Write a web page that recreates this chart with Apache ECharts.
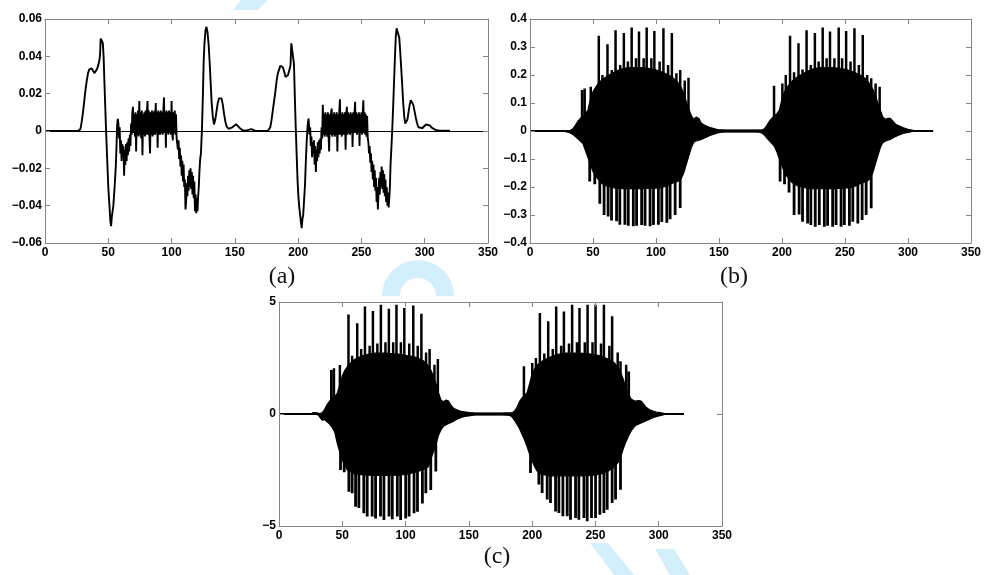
<!DOCTYPE html>
<html><head><meta charset="utf-8">
<script src="https://cdn.jsdelivr.net/npm/echarts/dist/echarts.min.js"></script>
<style>html,body{margin:0;padding:0;background:#fff}#c{width:984px;height:575px}</style>
</head><body><div id="c"></div>
<script>
// ---------- axis ticks ----------
const xTicks = {min: 0, max: 350, interval: 50};
const aTicks = {min: -0.06, max: 0.06, interval: 0.02};
const bTicks = {min: -0.4, max: 0.4, interval: 0.1};
const cTicks = {min: -5, max: 5, interval: 5};
const panelLabels = ['(a)', '(b)', '(c)'];

// ---------- panel (a) ----------
const aPart1X = [0,10,20,26,27,28,29,30,31,32,33,34,35,36,37,38,39,40,41,42,43,43.5,44,45,45.7,46.3,47,48,49,50,51,51.6,52.2,52.8,53.4,54,55,55.5];
const aPart1Y = [0,0,0,0,0.0005,0.001,0.005,0.01,0.016,0.022,0.027,0.031,0.033,0.034,0.0335,0.0325,0.031,0.0305,0.033,0.035,0.038,0.041,0.0495,0.0495,0.047,0.04,0.025,0.005,-0.013,-0.03,-0.041,-0.048,-0.051,-0.046,-0.047,-0.04,-0.03,-0.024];
const aNoise1Start = 56, aNoiseStep = 0.5;
const aNoise1 = [
 -0.018,-0.008,0.003,0.0065,0.004,-0.004,0.002,-0.012,-0.005,-0.016,-0.007,-0.012,-0.008,-0.024,-0.01,-0.018,-0.007,-0.016,-0.006,-0.013,-0.004,-0.011,-0.002,-0.008,
 0.004,-0.002,0.01,0.013,-0.001,0.009,-0.003,0.01,-0.011,0.009,
 -0.002,0.011,-0.003,0.016,-0.002,0.01,-0.004,0.011,-0.013,0.009,
 -0.002,0.01,-0.003,0.011,-0.002,0.01,0.016,-0.002,0.011,-0.003,
 -0.012,0.01,-0.002,0.011,-0.003,0.01,-0.002,0.011,-0.002,0.015,
 -0.001,0.01,-0.009,0.011,-0.002,0.01,-0.002,0.011,-0.001,0.01,
 -0.002,0.011,0.018,-0.001,0.01,-0.009,0.011,-0.001,0.01,-0.002,
 0.011,-0.001,0.01,-0.002,0.016,-0.001,-0.005,0.01,-0.001,0.011,
 -0.002,0.009,-0.004,
 -0.004,-0.01,-0.005,-0.015,-0.009,-0.019,-0.013,-0.024,-0.016,-0.027,
 -0.018,-0.03,-0.026,-0.042,-0.038,-0.028,-0.035,-0.024,-0.032,-0.021,
 -0.03,-0.02,-0.031,-0.022,-0.034,-0.024,-0.036,-0.027,-0.043,-0.034,
 -0.044,-0.036,-0.043,-0.035,-0.03,-0.022];
const aPart2X = [122.6,123.2,124,124.7,125.4,126,126.8,127.6,128.4,129.2,130,130.8,131.6,132.5,133.5,134.5,135.5,136.5,137.5,138.5,139.5,140.5,141.5,142.5,143.5,145,146.5,148,149.5,151,152.5,154,156,158,160,163,166,170,174];
const aPart2Y = [-0.015,-0.012,0.001,0.018,0.038,0.047,0.054,0.0558,0.053,0.047,0.038,0.027,0.016,0.008,0.0035,0.006,0.0105,0.015,0.0175,0.0185,0.0175,0.014,0.009,0.005,0.0025,0.0012,0.0012,0.002,0.003,0.0036,0.003,0.0015,0.0004,0.0002,0.0005,0.001,0.0002,0,0];
const aPart3X = [176,177,178,179,180,181,182,183,184,185,186,187,188,189,190,191,192,193,194,194.6,195.3,196,196.7,197.4,198.1,198.8,199.5,200.2,200.9,201.6,202.2,202.8,203.4,204,204.7,205.4,206.1,206.8,207.5,208.2];
const aPart3Y = [0,0.001,0.002,0.006,0.011,0.016,0.021,0.027,0.031,0.033,0.035,0.0353,0.034,0.0317,0.029,0.028,0.03,0.0326,0.0353,0.047,0.047,0.046,0.036,0.018,0.002,-0.012,-0.026,-0.035,-0.041,-0.045,-0.049,-0.052,-0.047,-0.045,-0.037,-0.029,-0.016,-0.005,0.003,0.0066];
const aNoise2Start = 208.5;
const aNoise2 = [
 0.004,-0.002,0.002,-0.008,-0.003,-0.014,-0.006,-0.012,-0.005,-0.018,-0.008,-0.022,-0.01,-0.016,-0.006,-0.014,-0.005,-0.012,-0.004,-0.01,0.002,-0.004,
 0.014,-0.002,0.009,-0.003,0.01,-0.002,0.009,-0.003,0.01,-0.002,
 -0.011,0.009,-0.002,0.01,0.012,-0.003,0.009,-0.002,0.01,-0.003,
 0.009,-0.002,0.01,-0.011,0.009,-0.002,0.01,0.017,-0.002,0.009,
 -0.003,0.01,-0.002,0.009,-0.002,0.01,-0.01,0.009,0.013,-0.002,
 0.01,-0.001,0.009,-0.002,0.01,-0.001,0.009,-0.0085,0.01,-0.001,
 0.009,0.0156,-0.001,0.01,-0.002,0.009,-0.001,0.01,-0.008,0.009,
 -0.001,0.01,-0.002,0.009,0.0165,-0.001,0.01,-0.002,0.009,-0.003,
 0.008,-0.004,
 -0.006,-0.012,-0.008,-0.017,-0.012,-0.022,-0.016,-0.026,-0.018,-0.03,
 -0.021,-0.032,-0.025,-0.038,-0.03,-0.042,-0.033,-0.025,-0.034,-0.022,
 -0.03,-0.019,-0.031,-0.021,-0.033,-0.023,-0.035,-0.026,-0.038,-0.03,
 -0.04,-0.033,-0.041,-0.036,-0.03,-0.018];
const aPart4X = [273.6,274.3,275,275.7,276.4,277.1,277.8,278.5,279.2,279.9,280.6,281.4,282.2,283,283.8,284.6,285.4,286.3,287.2,288.1,289,290,291,292,293,294,295,296.5,298,299.5,301,302.5,304,305.5,307,309,312,316,320];
const aPart4Y = [-0.01,0,0.012,0.025,0.038,0.05,0.055,0.0558,0.054,0.05,0.043,0.034,0.025,0.015,0.008,0.004,0.0035,0.006,0.01,0.014,0.0165,0.0168,0.014,0.0105,0.007,0.004,0.002,0.0012,0.0015,0.0025,0.0035,0.0036,0.003,0.0018,0.0008,0.0004,0.0002,0.0002,0.0002];

// ---------- envelopes for (b) and (c): burst 1 x=26..156, burst 2 x=176..306, step 2 ----------
const env1Start = 26, env2Start = 176, envStep = 2;
const baseX = [0, 320];
const baseY = [0, 0];

const b1Up = [0,0,0,0.002,0.008,0.02,0.035,0.045,0.055,0.062, 0.075,0.115,0.14,0.155,0.168,0.178,0.186,0.192,0.198,0.203,
 0.208,0.213,0.217,0.22,0.223,0.225,0.226,0.226,0.226,0.226, 0.226,0.226,0.225,0.225,0.224,0.222,0.22,0.218,0.215,0.212,
 0.208,0.204,0.2,0.195,0.188,0.18,0.17,0.155,0.135,0.105, 0.08,0.055,0.042,0.05,0.045,0.028,0.022,0.018,0.014,0.011,
 0.009,0.006,0.004,0.003,0.002,0];
const b1Lo = [0,-0.002,-0.004,-0.007,-0.012,-0.02,-0.028,-0.036,-0.045,-0.07, -0.095,-0.12,-0.145,-0.16,-0.172,-0.182,-0.19,-0.195,-0.198,-0.2,
 -0.202,-0.204,-0.205,-0.205,-0.206,-0.206,-0.206,-0.206,-0.206,-0.206, -0.206,-0.206,-0.206,-0.205,-0.205,-0.205,-0.205,-0.204,-0.203,-0.202,
 -0.2,-0.197,-0.193,-0.188,-0.185,-0.182,-0.178,-0.17,-0.15,-0.12, -0.09,-0.06,-0.04,-0.035,-0.033,-0.03,-0.026,-0.022,-0.018,-0.014,
 -0.011,-0.008,-0.006,-0.004,-0.002,0];
const b2Up = [0,0,0,0,0.002,0.008,0.02,0.035,0.045,0.055, 0.062,0.075,0.115,0.14,0.155,0.168,0.178,0.186,0.192,0.198,
 0.203,0.208,0.213,0.217,0.22,0.223,0.225,0.226,0.226,0.226, 0.226,0.226,0.226,0.225,0.225,0.224,0.222,0.22,0.218,0.215,
 0.212,0.208,0.204,0.2,0.195,0.188,0.178,0.165,0.15,0.13, 0.1,0.075,0.05,0.042,0.045,0.045,0.035,0.025,0.02,0.016,
 0.012,0.009,0.006,0.004,0.002,0];
const b2Lo = [0,0,-0.002,-0.004,-0.007,-0.014,-0.025,-0.035,-0.045,-0.055, -0.075,-0.1,-0.125,-0.148,-0.162,-0.174,-0.184,-0.19,-0.195,-0.198,
 -0.2,-0.202,-0.204,-0.205,-0.206,-0.206,-0.206,-0.206,-0.206,-0.206, -0.206,-0.206,-0.206,-0.206,-0.205,-0.205,-0.205,-0.204,-0.203,-0.202,
 -0.2,-0.197,-0.193,-0.188,-0.185,-0.182,-0.178,-0.17,-0.15,-0.12, -0.09,-0.06,-0.042,-0.036,-0.033,-0.03,-0.025,-0.02,-0.016,-0.012,
 -0.009,-0.007,-0.005,-0.003,-0.001,0];
const bSpikeUpX = [41.3,43.4,48.2,54.6,57.5,61.5,64.9,67.9,71.6,74.5,77.7,80.7,84.1,86.5,90.2,92.6,96.3,98.7,102.9,105.9,109.6,112.6,116.2,119.2,122.8,125.8,
 193.7,200.3,203,206.4,209.6,213.1,216.3,219.5,222.9,226.1,229.1,232.3,235.4,238.1,241.6,245,247.7,250.9,254.4,257.5,261,264.1,267.6,270.8,274.3,277.5];
const bSpikeUpY = [0.146,0.152,0.158,0.34,0.2,0.31,0.218,0.36,0.236,0.35,0.248,0.37,0.26,0.355,0.26,0.37,0.26,0.357,0.248,0.367,0.236,0.35,0.206,0.218,0.18,0.19,
 0.162,0.17,0.2,0.34,0.21,0.313,0.22,0.36,0.236,0.35,0.248,0.37,0.26,0.355,0.26,0.37,0.26,0.357,0.248,0.367,0.236,0.343,0.2,0.188,0.17,0.158];
const bSpikeLoX = [47.4,51.4,55.4,58.8,62,64.7,68.7,71.3,75.3,78,82,84.6,88.6,91.3,95.3,98,101.9,104.6,108.6,111.2,115.2,119.2,
 198.5,202,205.6,209.6,213.6,216.3,220.3,222.9,226.4,229.6,233.6,236.2,240.2,242.9,246.9,249.5,253.5,256.2,260.2,263.6,266.8,270.8];
const bSpikeLoY = [-0.18,-0.19,-0.26,-0.3,-0.305,-0.32,-0.322,-0.335,-0.335,-0.338,-0.34,-0.338,-0.336,-0.338,-0.34,-0.336,-0.335,-0.325,-0.328,-0.315,-0.3,-0.275,
 -0.18,-0.19,-0.22,-0.3,-0.298,-0.324,-0.33,-0.336,-0.342,-0.336,-0.342,-0.338,-0.342,-0.336,-0.342,-0.336,-0.338,-0.324,-0.33,-0.318,-0.3,-0.276];

const c1Up = [0.05,0.06,0.05,0.02,0.05,0.2,0.42,0.58,0.7,0.78, 0.92,1.3,1.7,1.95,2.1,2.25,2.36,2.44,2.5,2.55,
 2.6,2.63,2.66,2.68,2.7,2.72,2.72,2.72,2.72,2.72, 2.71,2.7,2.7,2.69,2.68,2.66,2.64,2.62,2.6,2.58,
 2.56,2.53,2.48,2.44,2.38,2.28,2.15,1.95,1.7,1.35, 0.95,0.62,0.55,0.62,0.58,0.38,0.25,0.2,0.15,0.12,
 0.1,0.08,0.06,0.05,0.03,0];
const c1Lo = [0,0,0,-0.12,-0.28,-0.25,-0.35,-0.45,-0.6,-0.8, -1.3,-1.7,-2.05,-2.3,-2.5,-2.58,-2.63,-2.66,-2.68,-2.7,
 -2.72,-2.72,-2.73,-2.73,-2.74,-2.74,-2.74,-2.74,-2.74,-2.74, -2.74,-2.74,-2.74,-2.73,-2.73,-2.72,-2.71,-2.7,-2.68,-2.65,
 -2.62,-2.6,-2.56,-2.52,-2.48,-2.42,-2.35,-2.0,-1.7,-1.35, -0.95,-0.7,-0.55,-0.48,-0.42,-0.38,-0.32,-0.25,-0.2,-0.15,
 -0.12,-0.1,-0.08,-0.06,-0.04,0];
const c2Up = [0.02,0.03,0.04,0.03,0.05,0.12,0.3,0.55,0.72,0.82, 0.95,1.35,1.8,2.02,2.18,2.28,2.36,2.42,2.48,2.53,
 2.58,2.62,2.66,2.68,2.7,2.72,2.72,2.72,2.72,2.72, 2.72,2.72,2.71,2.7,2.7,2.68,2.66,2.64,2.62,2.58,
 2.55,2.5,2.45,2.4,2.33,2.22,2.08,1.85,1.55,1.2, 0.9,0.68,0.6,0.58,0.6,0.58,0.45,0.3,0.22,0.16,
 0.12,0.09,0.07,0.05,0.03,0];
const c2Lo = [-0.02,-0.03,-0.04,-0.06,-0.12,-0.28,-0.45,-0.65,-0.9,-1.15, -1.45,-1.8,-2.1,-2.35,-2.55,-2.65,-2.7,-2.72,-2.74,-2.75,
 -2.76,-2.76,-2.76,-2.76,-2.76,-2.76,-2.76,-2.76,-2.76,-2.76, -2.76,-2.76,-2.76,-2.75,-2.75,-2.74,-2.73,-2.72,-2.7,-2.68,
 -2.65,-2.6,-2.55,-2.48,-2.4,-2.3,-2.15,-1.9,-1.55,-1.25, -1.0,-0.78,-0.62,-0.5,-0.45,-0.4,-0.35,-0.3,-0.25,-0.2,
 -0.15,-0.12,-0.09,-0.06,-0.03,0];
const cSpikeUpX = [41.3,43.4,48.1,54.9,57.8,61.8,64.9,67.9,71.6,74.2,77.7,80.5,84.1,86.8,90.2,92.8,96.3,99,102.9,106.1,109.6,112.5,116.2,119,122.8,125.5,
 193.5,200.1,203,206.1,209.6,212.7,216.3,219,222.9,225.1,229.1,231.6,235.4,237.4,241.6,243.8,247.7,250.1,254.4,256.7,261,263.2,267.6,269.8,274.3,276.4];
const cSpikeUpY = [1.96,2.04,2.19,4.44,2.6,4.05,2.9,4.8,3.05,4.6,3.15,4.88,3.2,4.7,3.2,4.88,3.2,4.73,3.15,4.84,3.05,4.47,2.75,2.9,2.2,2.45,
 2.13,2.28,2.5,4.51,2.7,4.14,2.9,4.8,3.05,4.58,3.15,4.88,3.2,4.73,3.2,4.88,3.2,4.88,3.15,4.88,3.05,4.36,2.75,2.35,2.2,1.9];
const cSpikeLoX = [48.6,51.5,55.2,57.8,60.5,63.1,67,69.7,73.6,76.3,80.2,82.9,86.9,89.5,93.5,96.1,100.1,102.8,106.7,109.4,113.3,116,119.9,123.9,
 198.7,205.3,207.9,211.9,214.5,218.5,221.1,224.3,227.7,230.3,234.3,236.9,240.9,243.5,246.9,250.1,253.5,256.7,259.3,263.2,265.9,269.8];
const cSpikeLoY = [-2.5,-2.6,-3.47,-3.54,-4.14,-4.2,-4.43,-4.58,-4.58,-4.66,-4.58,-4.73,-4.58,-4.7,-4.58,-4.73,-4.66,-4.58,-4.43,-4.36,-3.99,-3.54,-3.39,-2.57,
 -2.63,-3.15,-3.53,-3.82,-3.97,-4.35,-4.42,-4.57,-4.57,-4.72,-4.64,-4.72,-4.64,-4.79,-4.64,-4.64,-4.5,-4.42,-4.27,-3.97,-3.82,-3.38];

// ---------- helpers ----------
const pairs = (xs, ys) => xs.map((x, i) => [x, ys[i]]);
const seq = (start, step, vals) => vals.map((v, i) => [start + i * step, v]);
const spikes = (xs, ys) => { const d = []; xs.forEach((x, i) => { d.push([x, 0], [x, ys[i]], [x, 0]); }); return d; };

const aData = [].concat(pairs(aPart1X, aPart1Y), seq(aNoise1Start, aNoiseStep, aNoise1), pairs(aPart2X, aPart2Y),
  pairs(aPart3X, aPart3Y), seq(aNoise2Start, aNoiseStep, aNoise2), pairs(aPart4X, aPart4Y));

const GRAY = '#858585';
const labelStyle = {color: '#000', fontFamily: '"Liberation Sans", Arial, sans-serif', fontWeight: 'bold', fontSize: 12};
const yFmt = v => { if (Math.abs(v) < 1e-9) return '0'; return String(+v.toFixed(3)).replace('-', '\u2212'); };

const grids = [
  {left: 45, top: 19, width: 443, height: 224},
  {left: 530, top: 19, width: 441, height: 224},
  {left: 279, top: 302, width: 443, height: 224}
].map(g => Object.assign({show: true, backgroundColor: '#fff', borderWidth: 0}, g));
const yT = [aTicks, bTicks, cTicks];
const xAxes = [], yAxes = [];
grids.forEach((g, gi) => {
  const lineS = {show: true, onZero: false, lineStyle: {color: GRAY, width: 1}};
  const tickS = {show: true, inside: true, length: 5, lineStyle: {color: GRAY, width: 1}};
  xAxes.push({gridIndex: gi, z: 5, type: 'value', position: 'bottom', min: xTicks.min, max: xTicks.max, interval: xTicks.interval,
    axisLine: lineS, axisTick: tickS, splitLine: {show: false},
    axisLabel: Object.assign({margin: 4, showMinLabel: true, showMaxLabel: true}, labelStyle)});
  xAxes.push({gridIndex: gi, z: 5, type: 'value', position: 'top', min: xTicks.min, max: xTicks.max, interval: xTicks.interval,
    axisLine: lineS, axisTick: tickS, splitLine: {show: false}, axisLabel: {show: false}});
  yAxes.push({gridIndex: gi, z: 5, type: 'value', position: 'left', min: yT[gi].min, max: yT[gi].max, interval: yT[gi].interval,
    axisLine: lineS, axisTick: tickS, splitLine: {show: false},
    axisLabel: Object.assign({margin: 3, showMinLabel: true, showMaxLabel: true, formatter: yFmt}, labelStyle)});
  yAxes.push({gridIndex: gi, z: 5, type: 'value', position: 'right', min: yT[gi].min, max: yT[gi].max, interval: yT[gi].interval,
    axisLine: lineS, axisTick: tickS, splitLine: {show: false}, axisLabel: {show: false}});
});

const series = [];
series.push({type: 'line', xAxisIndex: 0, yAxisIndex: 0, data: aData, symbol: 'none', silent: true, z: 3,
  lineStyle: {color: '#000', width: 1.9},
  markLine: {silent: true, symbol: 'none', label: {show: false}, lineStyle: {color: '#000', width: 1.2, type: 'solid'}, data: [{yAxis: 0}]}});

function burstSeries(gi, up1, lo1, up2, lo2, spUX, spUY, spLX, spLY) {
  const ax = {xAxisIndex: gi * 2, yAxisIndex: gi * 2, symbol: 'none', silent: true, type: 'line', z: 3};
  const area = d => Object.assign({}, ax, {data: d, lineStyle: {color: '#000', width: 1.2}, areaStyle: {color: '#000', opacity: 1}});
  series.push(area(seq(env1Start, envStep, up1)), area(seq(env1Start, envStep, lo1)),
              area(seq(env2Start, envStep, up2)), area(seq(env2Start, envStep, lo2)));
  series.push(Object.assign({}, ax, {data: spikes(spUX, spUY), lineStyle: {color: '#000', width: 2.5}}));
  series.push(Object.assign({}, ax, {data: spikes(spLX, spLY), lineStyle: {color: '#000', width: 2.8}}));
  series.push(Object.assign({}, ax, {data: pairs(baseX, baseY), lineStyle: {color: '#000', width: 1.8}}));
}
burstSeries(1, b1Up, b1Lo, b2Up, b2Lo, bSpikeUpX, bSpikeUpY, bSpikeLoX, bSpikeLoY);
burstSeries(2, c1Up, c1Lo, c2Up, c2Lo, cSpikeUpX, cSpikeUpY, cSpikeLoX, cSpikeLoY);

const labelPos = [[282, 277], [734, 277], [497, 557]];
const WM = '#d3effb';
const graphic = [
  {type: 'polygon', z: -10, silent: true, shape: {points: [[233, 10], [241, 0], [268, 0], [258, 10]]}, style: {fill: WM}},
  {type: 'sector', z: -10, silent: true, shape: {cx: 418, cy: 296, r: 36, r0: 18, startAngle: Math.PI, endAngle: 2 * Math.PI}, style: {fill: WM}},
  {type: 'polygon', z: -10, silent: true, shape: {points: [[590, 543], [608, 543], [634, 575], [614, 575]]}, style: {fill: WM}},
  {type: 'polygon', z: -10, silent: true, shape: {points: [[655, 549], [674, 549], [690, 575], [670, 575]]}, style: {fill: WM}}
].concat(panelLabels.map((t, i) => ({type: 'text', x: labelPos[i][0], y: labelPos[i][1], silent: true, z: 10,
  style: {text: t, fill: '#111', font: '24px "Liberation Serif", "DejaVu Serif", serif', textAlign: 'center', textVerticalAlign: 'middle', align: 'center', verticalAlign: 'middle'}})));

const chart = echarts.init(document.getElementById('c'));
chart.setOption({animation: false, backgroundColor: '#fff', grid: grids, xAxis: xAxes, yAxis: yAxes, series: series, graphic: graphic});
</script></body></html>
